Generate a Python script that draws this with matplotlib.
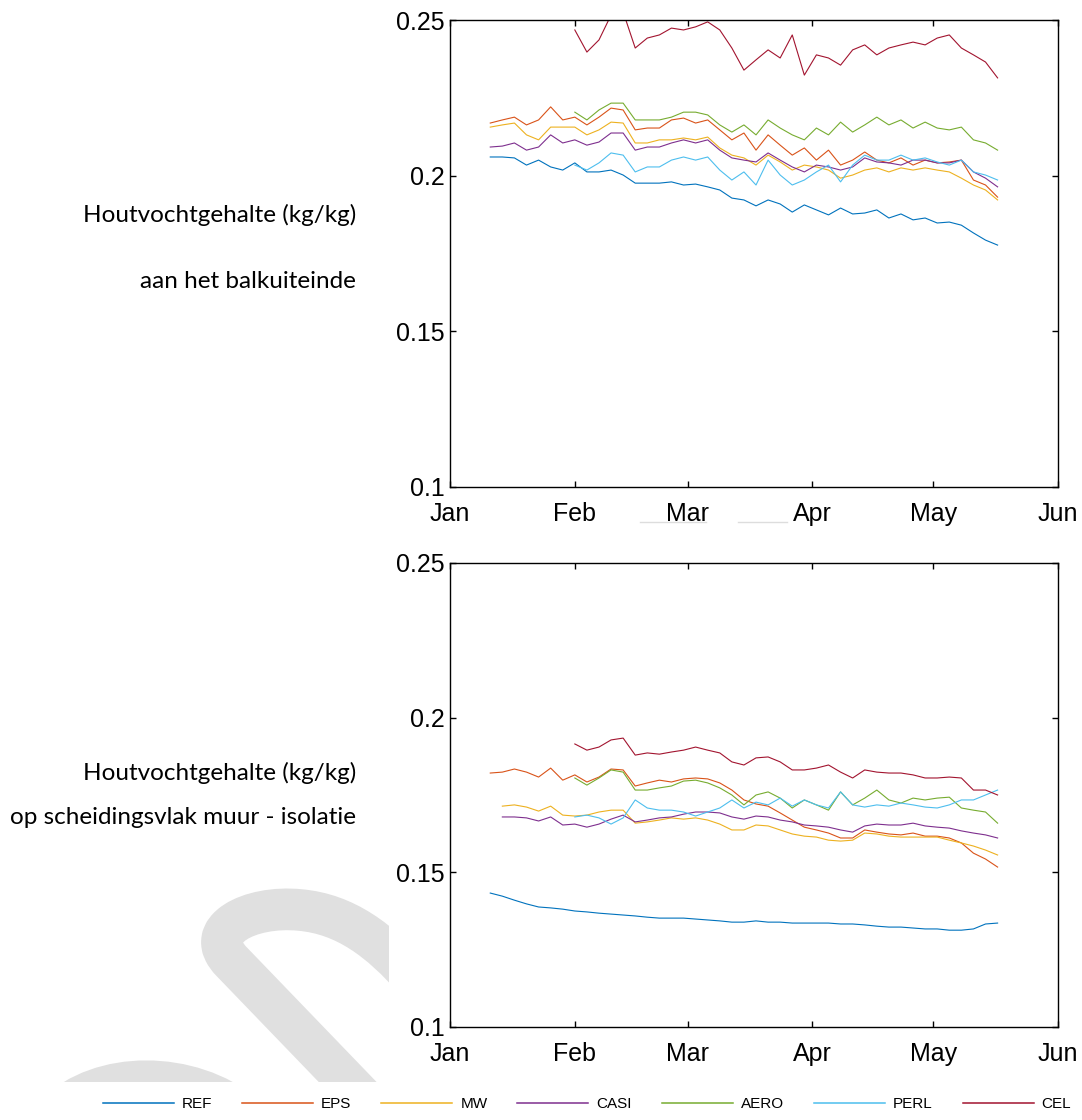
import numpy as np
import pandas as pd
import matplotlib.pyplot as plt
import matplotlib.dates as mdates
import matplotlib.transforms as mtransforms
from matplotlib import font_manager
from matplotlib.path import Path
from matplotlib.patches import PathPatch
from matplotlib.lines import Line2D

# Dates: every 3 days from 11 Jan to 17 May; the later series start 1 Feb
dates = pd.date_range('2015-01-11', periods=43, freq='3D')
late = dates[7:]

names = ['REF', 'EPS', 'MW', 'CASI', 'AERO', 'PERL', 'CEL']
colors = ['#0072BD', '#D95319', '#EDB120', '#7E2F8E', '#77AC30', '#4DBEEE', '#A2142F']

# Top panel: moisture content at the beam end (kg/kg)
ref_top = [0.2060, 0.2060, 0.2057, 0.2034, 0.2050, 0.2028, 0.2018, 0.2041, 0.2012, 0.2012, 0.2018,
           0.2002, 0.1976, 0.1976, 0.1976, 0.1980, 0.1970, 0.1973, 0.1964, 0.1954, 0.1928, 0.1922,
           0.1903, 0.1922, 0.1909, 0.1883, 0.1906, 0.1890, 0.1874, 0.1896, 0.1877, 0.1880, 0.1890,
           0.1864, 0.1877, 0.1858, 0.1864, 0.1848, 0.1851, 0.1841, 0.1816, 0.1793, 0.1777]
eps_top = [0.2169, 0.2179, 0.2188, 0.2163, 0.2179, 0.2221, 0.2179, 0.2188, 0.2163, 0.2188, 0.2217,
           0.2211, 0.2147, 0.2153, 0.2153, 0.2179, 0.2185, 0.2169, 0.2179, 0.2147, 0.2115, 0.2137,
           0.2082, 0.2131, 0.2098, 0.2066, 0.2089, 0.2050, 0.2082, 0.2034, 0.2050, 0.2076, 0.2050,
           0.2041, 0.2057, 0.2034, 0.2050, 0.2041, 0.2044, 0.2050, 0.1986, 0.1970, 0.1931]
mw_top = [0.2156, 0.2163, 0.2169, 0.2131, 0.2115, 0.2156, 0.2156, 0.2156, 0.2131, 0.2147, 0.2172,
          0.2169, 0.2105, 0.2105, 0.2115, 0.2115, 0.2121, 0.2115, 0.2124, 0.2089, 0.2066, 0.2057,
          0.2034, 0.2066, 0.2044, 0.2018, 0.2034, 0.2028, 0.2018, 0.1992, 0.2002, 0.2018, 0.2025,
          0.2012, 0.2025, 0.2018, 0.2025, 0.2018, 0.2012, 0.1992, 0.1970, 0.1954, 0.1922]
casi_top = [0.2092, 0.2095, 0.2105, 0.2082, 0.2092, 0.2131, 0.2105, 0.2115, 0.2098, 0.2108, 0.2137,
            0.2137, 0.2082, 0.2092, 0.2092, 0.2105, 0.2115, 0.2105, 0.2115, 0.2082, 0.2057, 0.2050,
            0.2044, 0.2073, 0.2050, 0.2028, 0.2012, 0.2034, 0.2028, 0.2018, 0.2028, 0.2057, 0.2044,
            0.2041, 0.2034, 0.2050, 0.2050, 0.2041, 0.2041, 0.2050, 0.2012, 0.1992, 0.1964]
aero_top = [0.2204, 0.2179, 0.2211, 0.2233, 0.2233, 0.2179, 0.2179, 0.2179, 0.2188, 0.2204, 0.2204,
            0.2195, 0.2163, 0.2140, 0.2163, 0.2131, 0.2179, 0.2153, 0.2131, 0.2115, 0.2153, 0.2131,
            0.2172, 0.2140, 0.2163, 0.2188, 0.2163, 0.2179, 0.2153, 0.2172, 0.2153, 0.2147, 0.2156,
            0.2115, 0.2105, 0.2082]
perl_top = [0.2034, 0.2018, 0.2041, 0.2073, 0.2066, 0.2012, 0.2028, 0.2028, 0.2050, 0.2060, 0.2050,
            0.2060, 0.2018, 0.1986, 0.2012, 0.1970, 0.2050, 0.2002, 0.1970, 0.1986, 0.2012, 0.2034,
            0.1980, 0.2034, 0.2066, 0.2050, 0.2050, 0.2066, 0.2050, 0.2057, 0.2044, 0.2034, 0.2050,
            0.2012, 0.2002, 0.1986]
cel_top = [0.2468, 0.2397, 0.2436, 0.2516, 0.2526, 0.2410, 0.2442, 0.2452, 0.2474, 0.2468, 0.2478,
           0.2494, 0.2468, 0.2410, 0.2339, 0.2372, 0.2404, 0.2378, 0.2452, 0.2323, 0.2388, 0.2378,
           0.2355, 0.2404, 0.2420, 0.2388, 0.2410, 0.2420, 0.2429, 0.2420, 0.2442, 0.2452, 0.2410,
           0.2388, 0.2365, 0.2314]

# Bottom panel: moisture content at the wall / insulation interface (kg/kg)
ref_bot = [0.1433, 0.1423, 0.1410, 0.1398, 0.1388, 0.1385, 0.1381, 0.1375, 0.1372, 0.1368, 0.1365,
           0.1362, 0.1359, 0.1355, 0.1352, 0.1352, 0.1352, 0.1349, 0.1346, 0.1343, 0.1339, 0.1339,
           0.1343, 0.1339, 0.1339, 0.1336, 0.1336, 0.1336, 0.1336, 0.1333, 0.1333, 0.1330, 0.1326,
           0.1323, 0.1323, 0.1320, 0.1317, 0.1317, 0.1313, 0.1313, 0.1317, 0.1333, 0.1336]
eps_bot = [0.1821, 0.1824, 0.1834, 0.1824, 0.1808, 0.1837, 0.1798, 0.1815, 0.1792, 0.1808, 0.1834,
           0.1831, 0.1779, 0.1789, 0.1798, 0.1792, 0.1802, 0.1805, 0.1802, 0.1789, 0.1766, 0.1734,
           0.1721, 0.1714, 0.1692, 0.1669, 0.1646, 0.1637, 0.1627, 0.1611, 0.1611, 0.1637, 0.1630,
           0.1624, 0.1621, 0.1627, 0.1617, 0.1617, 0.1611, 0.1595, 0.1562, 0.1543, 0.1517]
mw_bot = [0.1714, 0.1718, 0.1711, 0.1698, 0.1714, 0.1685, 0.1682, 0.1685, 0.1695, 0.1701, 0.1701,
          0.1659, 0.1663, 0.1669, 0.1676, 0.1672, 0.1676, 0.1669, 0.1656, 0.1637, 0.1637, 0.1653,
          0.1650, 0.1637, 0.1624, 0.1617, 0.1614, 0.1604, 0.1601, 0.1604, 0.1627, 0.1624, 0.1617,
          0.1614, 0.1614, 0.1614, 0.1614, 0.1604, 0.1595, 0.1585, 0.1572, 0.1556]
casi_bot = [0.1679, 0.1679, 0.1676, 0.1666, 0.1679, 0.1653, 0.1656, 0.1646, 0.1656, 0.1672, 0.1685,
            0.1663, 0.1669, 0.1676, 0.1679, 0.1688, 0.1695, 0.1695, 0.1692, 0.1679, 0.1672, 0.1682,
            0.1679, 0.1669, 0.1663, 0.1653, 0.1650, 0.1646, 0.1637, 0.1630, 0.1650, 0.1656, 0.1653,
            0.1653, 0.1659, 0.1650, 0.1646, 0.1643, 0.1634, 0.1627, 0.1621, 0.1611]
aero_bot = [0.1805, 0.1782, 0.1805, 0.1831, 0.1824, 0.1766, 0.1766, 0.1773, 0.1779, 0.1795, 0.1798,
            0.1789, 0.1773, 0.1750, 0.1718, 0.1750, 0.1760, 0.1740, 0.1708, 0.1734, 0.1718, 0.1701,
            0.1760, 0.1718, 0.1740, 0.1766, 0.1734, 0.1724, 0.1740, 0.1734, 0.1740, 0.1743, 0.1708,
            0.1701, 0.1695, 0.1659]
perl_bot = [0.1679, 0.1685, 0.1676, 0.1656, 0.1676, 0.1734, 0.1708, 0.1701, 0.1701, 0.1695, 0.1682,
            0.1695, 0.1708, 0.1734, 0.1708, 0.1727, 0.1718, 0.1740, 0.1714, 0.1734, 0.1718, 0.1708,
            0.1760, 0.1718, 0.1711, 0.1718, 0.1714, 0.1724, 0.1718, 0.1711, 0.1708, 0.1718, 0.1734,
            0.1734, 0.1750, 0.1766]
cel_bot = [0.1915, 0.1895, 0.1905, 0.1928, 0.1934, 0.1879, 0.1886, 0.1882, 0.1889, 0.1895, 0.1905,
           0.1895, 0.1886, 0.1857, 0.1847, 0.1870, 0.1873, 0.1857, 0.1831, 0.1831, 0.1837, 0.1847,
           0.1824, 0.1805, 0.1831, 0.1824, 0.1821, 0.1821, 0.1815, 0.1805, 0.1805, 0.1808, 0.1805,
           0.1766, 0.1766, 0.1750]

top_series = [(dates, ref_top), (dates, eps_top), (dates, mw_top), (dates, casi_top),
              (late, aero_top), (late, perl_top), (late, cel_top)]
bot_series = [(dates, ref_bot), (dates, eps_bot), (dates[1:], mw_bot), (dates[1:], casi_bot),
              (late, aero_bot), (late, perl_bot), (late, cel_bot)]

installed = {f.name for f in font_manager.fontManager.ttflist}
tick_font = 'Liberation Sans'
legend_font = 'Liberation Sans Narrow' if 'Liberation Sans Narrow' in installed else 'Liberation Sans'
label_font = 'Lato'

W, H = 1082, 1120
fig = plt.figure(figsize=(W / 100, H / 100), dpi=100)
px = mtransforms.Affine2D().scale(1 / W, -1 / H).translate(0, 1) + fig.transFigure

# light grey watermark in the lower left
wm = Path([(365, 1100), (232, 962), (200, 930), (250, 905), (300, 910),
           (345, 914), (380, 940), (415, 980),
           (55, 1115), (100, 1070), (190, 1070), (245, 1115)],
          [Path.MOVETO, Path.LINETO, Path.CURVE4, Path.CURVE4, Path.CURVE4,
           Path.CURVE4, Path.CURVE4, Path.CURVE4,
           Path.MOVETO, Path.CURVE4, Path.CURVE4, Path.CURVE4])
wm_patch = PathPatch(wm, transform=px, fill=False, edgecolor='#e0e0e0', lw=30,
                     capstyle='butt', joinstyle='round', zorder=-5)
clip = Path([(0, 0), (389, 0), (389, 1082), (0, 1082), (0, 0)], closed=True)
wm_patch.set_clip_path(clip, px)
fig.add_artist(wm_patch)

ax1 = fig.add_axes([450 / W, 1 - 487 / H, 608 / W, 467 / H])
ax2 = fig.add_axes([450 / W, 1 - 1027 / H, 608 / W, 464 / H])

for ax, series in [(ax1, top_series), (ax2, bot_series)]:
    for (x, y), c, n in zip(series, colors, names):
        ax.plot(x, y, color=c, lw=0.8, label=n)
    ax.set_xlim(pd.Timestamp('2015-01-01'), pd.Timestamp('2015-06-01'))
    ax.set_ylim(0.1, 0.25)
    ax.set_yticks([0.1, 0.15, 0.2, 0.25])
    ax.set_yticklabels(['0.1', '0.15', '0.2', '0.25'])
    ax.xaxis.set_major_locator(mdates.MonthLocator())
    ax.xaxis.set_major_formatter(mdates.DateFormatter('%b'))
    ax.tick_params(direction='in', top=True, right=True, length=4, width=1, labelsize=18)
    ax.tick_params(axis='x', pad=11)
    ax.tick_params(axis='y', pad=4)
    for lab in ax.get_xticklabels() + ax.get_yticklabels():
        lab.set_fontfamily(tick_font)
    for s in ax.spines.values():
        s.set_linewidth(1.0)

# y-axis descriptions, written to the left of each panel
fig.text(356 / W, 1 - 215 / H, 'Houtvochtgehalte (kg/kg)', ha='right', va='center',
         fontsize=17.5, family=label_font)
fig.text(356 / W, 1 - 282 / H, 'aan het balkuiteinde', ha='right', va='center',
         fontsize=17.5, family=label_font)
fig.text(356 / W, 1 - 773 / H, 'Houtvochtgehalte (kg/kg)', ha='right', va='center',
         fontsize=17.5, family=label_font)
fig.text(356 / W, 1 - 817 / H, 'op scheidingsvlak muur - isolatie', ha='right', va='center',
         fontsize=17.5, family=label_font)

# faint underlines left below the Mar / Apr labels
fig.add_artist(Line2D([640, 706], [522, 522], transform=px, color='#dddddd', lw=1))
fig.add_artist(Line2D([738, 787], [522, 522], transform=px, color='#dddddd', lw=1))

handles = [Line2D([], [], color=c, lw=1.1) for c in colors]
fig.legend(handles, names, loc='center', bbox_to_anchor=(587 / W, 1 - 1104 / H), ncol=7,
           frameon=False, handlelength=4.65, handletextpad=0.52, columnspacing=1.96,
           borderpad=0.2, prop={'family': legend_font, 'size': 11})

fig.savefig('out.png', dpi=100)
